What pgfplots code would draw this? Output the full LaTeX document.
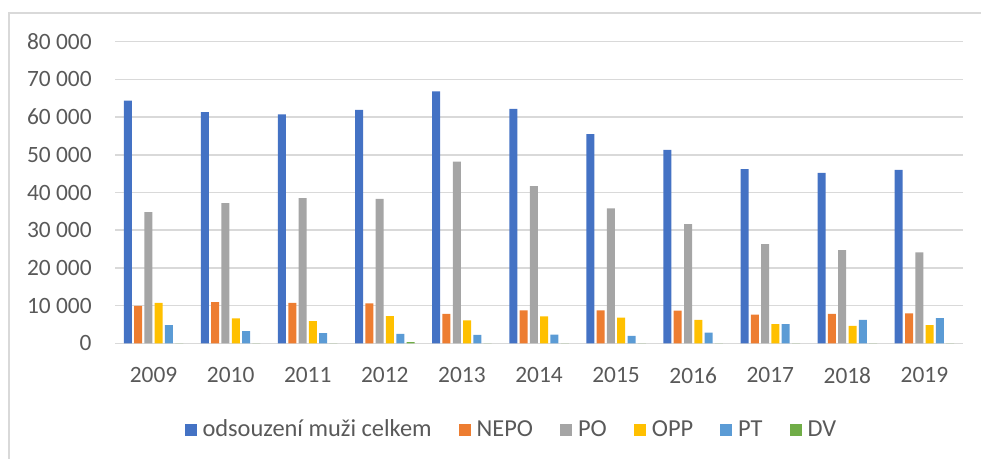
\documentclass[border=0pt]{standalone}
\usepackage{fontspec}
\setmainfont{Carlito}
\usepackage{pgfplots}
\pgfplotsset{compat=1.18}

\definecolor{cblue}{HTML}{4472C4}
\definecolor{corange}{HTML}{ED7D31}
\definecolor{cgray}{HTML}{A5A5A5}
\definecolor{cyellow}{HTML}{FFC000}
\definecolor{clblue}{HTML}{5B9BD5}
\definecolor{cgreen}{HTML}{70AD47}
\definecolor{txt}{HTML}{595959}
\definecolor{gridc}{HTML}{D9D9D9}

\begin{document}
\begin{tikzpicture}
\useasboundingbox (0,0) rectangle (490.5pt,229.5pt);
\draw[gridc, line width=1pt] (4.5pt,0) -- (4.5pt,223pt) -- (490.5pt,223pt);
\begin{axis}[
    at={(57.5pt,57.85pt)}, anchor=south west,
    scale only axis,
    width=424pt, height=150.8pt,
    ybar=1.15pt,
    bar width=4pt,
    xmin=-0.5, xmax=10.5,
    ymin=0, ymax=80000,
    scaled y ticks=false,
    xtick={0,...,10},
    xticklabels={2009,2010,2011,2012,2013,2014,2015,2016,2017,2018,2019},
    ytick={0,10000,...,80000},
    yticklabels={0,10 000,20 000,30 000,40 000,50 000,60 000,70 000,80 000},
    major tick length=0pt,
    axis line style={draw=none},
    ymajorgrids=true,
    grid style={gridc, line width=0.75pt},
    tick label style={font=\fontsize{11.7}{14}\selectfont, text=txt, inner sep=0pt},
    yticklabel style={anchor=east, xshift=-11.5pt},
    xticklabel style={anchor=north, yshift=-12pt},
    legend columns=6,
    legend style={at={(0.468,-0.2875)}, anchor=center, draw=none, fill=none,
        font=\fontsize{12.2}{14}\selectfont, text=txt,
        /tikz/every odd column/.append style={column sep=1.5pt},
        /tikz/every even column/.append style={column sep=12pt},
        nodes={inner sep=1.5pt}},
    legend image code/.code={\fill[#1] (0pt,-3pt) rectangle (6pt,3pt);},
]
\addplot[fill=cblue, draw=none] coordinates {(0,64400) (1,61300) (2,60700) (3,61900) (4,66800) (5,62200) (6,55500) (7,51300) (8,46200) (9,45200) (10,46000)};
\addplot[fill=corange, draw=none] coordinates {(0,9900) (1,10950) (2,10700) (3,10600) (4,7800) (5,8750) (6,8750) (7,8650) (8,7600) (9,7800) (10,7950)};
\addplot[fill=cgray, draw=none] coordinates {(0,34800) (1,37200) (2,38500) (3,38300) (4,48200) (5,41700) (6,35800) (7,31600) (8,26300) (9,24700) (10,24100)};
\addplot[fill=cyellow, draw=none] coordinates {(0,10700) (1,6600) (2,5900) (3,7200) (4,6100) (5,7150) (6,6800) (7,6200) (8,5100) (9,4600) (10,4850)};
\addplot[fill=clblue, draw=none] coordinates {(0,4850) (1,3200) (2,2700) (3,2500) (4,2200) (5,2300) (6,2000) (7,2800) (8,5100) (9,6200) (10,6700)};
\addplot[fill=cgreen, draw=none] coordinates {(0,0) (1,0) (2,0) (3,300) (4,0) (5,0) (6,0) (7,0) (8,0) (9,0) (10,0)};
\legend{odsouzení muži celkem, NEPO, PO, OPP, PT, DV}
\end{axis}
\end{tikzpicture}
\end{document}
